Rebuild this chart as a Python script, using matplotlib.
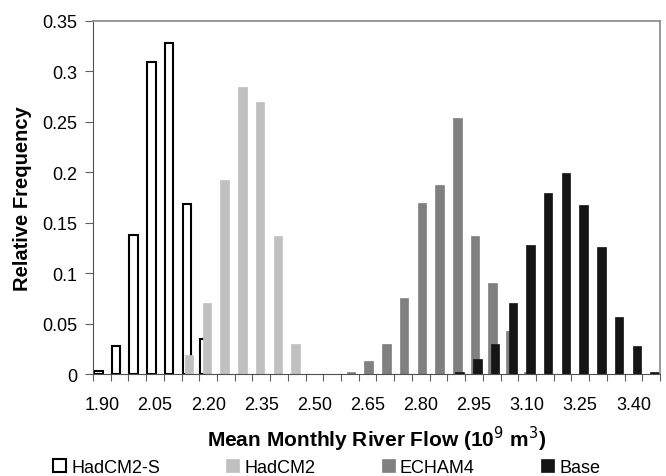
import numpy as np
import matplotlib.pyplot as plt
from matplotlib.patches import Patch

plt.rcParams['font.family'] = ['Liberation Sans', 'DejaVu Sans']

# flow bins (10^9 m^3), one category every 0.05
bins = [1.90, 1.95, 2.00, 2.05, 2.10, 2.15, 2.20, 2.25, 2.30, 2.35, 2.40,
        2.45, 2.50, 2.55, 2.60, 2.65, 2.70, 2.75, 2.80, 2.85, 2.90, 2.95,
        3.00, 3.05, 3.10, 3.15, 3.20, 3.25, 3.30, 3.35, 3.40, 3.45]

hadcm2s = [0.003, 0.028, 0.138, 0.309, 0.328, 0.169, 0.035, 0, 0, 0, 0,
           0, 0, 0, 0, 0, 0, 0, 0, 0, 0, 0,
           0, 0, 0, 0, 0, 0, 0, 0, 0, 0]
hadcm2 = [0, 0, 0, 0, 0, 0.019, 0.070, 0.192, 0.285, 0.270, 0.137,
          0.030, 0, 0, 0, 0, 0, 0, 0, 0, 0, 0,
          0, 0, 0, 0, 0, 0, 0, 0, 0, 0]
echam4 = [0, 0, 0, 0, 0, 0, 0, 0, 0, 0, 0,
          0, 0, 0, 0.002, 0.013, 0.030, 0.075, 0.170, 0.187, 0.254, 0.137,
          0.090, 0.043, 0.002, 0, 0, 0, 0, 0, 0, 0]
base = [0, 0, 0, 0, 0, 0, 0, 0, 0, 0, 0,
        0, 0, 0, 0, 0, 0, 0, 0, 0, 0.002, 0.015,
        0.030, 0.070, 0.128, 0.179, 0.199, 0.168, 0.126, 0.057, 0.028, 0.002]

names = ['HadCM2-S', 'HadCM2', 'ECHAM4', 'Base']
series = [hadcm2s, hadcm2, echam4, base]
faces = ['white', '#c0c0c0', '#808080', '#151515']
edges = ['black', '#c0c0c0', '#808080', '#151515']
offsets = [-0.2, -0.07, 0.06, 0.19]
width = 0.48

fig = plt.figure(figsize=(6.66, 4.77), dpi=100)
ax = fig.add_axes([0.1396, 0.2138, 0.8514, 0.7401])

x = np.arange(len(bins))
for vals, fc, ec, off in zip(series, faces, edges, offsets):
    v = np.array(vals)
    keep = v > 0
    lw = 1.5 if fc == 'white' else 0.5
    ax.bar(x[keep] + off, v[keep], width=width, color=fc, edgecolor=ec,
           linewidth=lw)

ax.set_xlim(-0.5, len(bins) - 0.5)
ax.set_ylim(0, 0.35)
ax.set_yticks(np.arange(0, 0.351, 0.05))
ax.set_yticklabels(['0', '0.05', '0.1', '0.15', '0.2', '0.25', '0.3', '0.35'])

ax.set_xticks(np.arange(len(bins) + 1) - 0.5)
ax.set_xticklabels([])
ax.set_xticks(x[::3], ['%.2f' % b for b in bins[::3]], minor=True)
ax.tick_params(axis='x', which='major', length=5, color='#606060')
ax.tick_params(axis='x', which='minor', length=0, pad=16, labelsize=13)
ax.tick_params(axis='y', length=6, color='#606060', pad=5, labelsize=13)

for s in ['left', 'bottom']:
    ax.spines[s].set_color('#505050')
for s in ['top', 'right']:
    ax.spines[s].set_color('#909090')
    ax.spines[s].set_linewidth(1.3)

ax.set_ylabel('Relative Frequency', fontsize=14.5, fontweight='bold')
ax.yaxis.set_label_coords(-0.108, 0.5)
ax.set_xlabel('Mean Monthly River Flow (10$^9$ m$^3$)', fontsize=15,
              fontweight='bold')
ax.xaxis.set_label_coords(0.5, -0.14)

handles = [Patch(facecolor=fc, edgecolor=ec, linewidth=1.5 if fc == 'white' else 0.5)
           for fc, ec in zip(faces, edges)]
fig.legend(handles, names, loc='center left', bbox_to_anchor=(0.0796, 0.018),
           ncol=4, frameon=False, fontsize=13, handlelength=0.72,
           handleheight=0.72, handletextpad=0.3, columnspacing=3.65,
           borderpad=0, borderaxespad=0)

fig.savefig('out.png', dpi=100)
